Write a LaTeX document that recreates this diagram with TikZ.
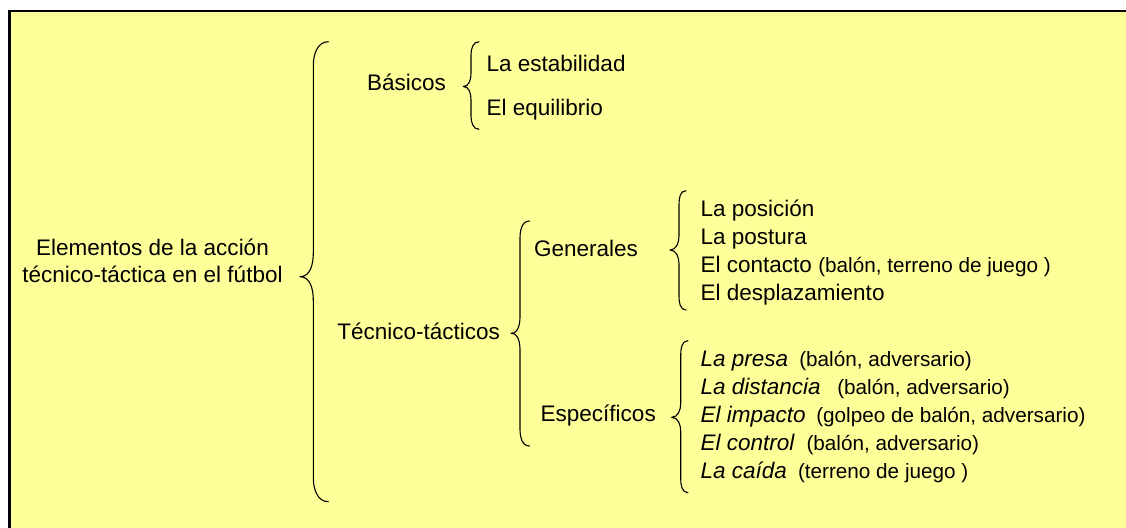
\documentclass[tikz,border=0pt]{standalone}
\usepackage{fontspec}
\setmainfont{Liberation Sans}
\definecolor{paper}{RGB}{255,255,153}
\newcommand\curlybr[7]{%
  \draw[bracestyle] (#1,{-(#4)}) to[out=180,in=90] (#2,{-(#4)-(#7)})
    -- (#2,{-(#5)+(#7)}) to[out=-90,in=0] (#3,{-(#5)})
    to[out=0,in=90] (#2,{-(#5)-(#7)})
    -- (#2,{-(#6)+(#7)}) to[out=-90,in=180] (#1,{-(#6)});}
\newcommand\pfont{\fontsize{20.7}{24}\selectfont}
\tikzset{
  txt/.style={inner sep=0pt, outer sep=0pt, anchor=base west,
    font=\fontsize{22.5}{27.5}\selectfont},
  bracestyle/.style={line width=1.1pt, line cap=round, line join=round}
}
\begin{document}
\begin{tikzpicture}[x=1pt,y=1pt]
\useasboundingbox (0,0) rectangle (1126,-527);
\clip (0,0) rectangle (1126,-527);
\fill[white] (0,0) rectangle (1126,-527);
\draw[line width=2.6pt, fill=paper] (9.5,-11.2) rectangle (1140,-540);

% root
\node[txt, anchor=center, align=center] (root) at (152.5,-263.3)
  {\strut Elementos de la acción\\\strut técnico-táctica en el fútbol};
\curlybr{328.3}{313.3}{300}{41.7}{276.7}{501.7}{24}

% Basicos
\node[txt] (bas) at (367,-90.7) {Básicos};
\curlybr{479}{471}{463.3}{41.7}{86.5}{129.3}{13}
\node[txt] (est) at (486.7,-71.7) {La estabilidad};
\node[txt] (equ) at (486.7,-115) {El equilibrio};

% Tecnico-tacticos
\node[txt] (tt) at (337.3,-339.3) {Técnico-tácticos};
\curlybr{529.5}{520}{511}{221}{333.3}{446}{17}

\node[txt] (gen) at (534,-256) {Generales};
\curlybr{686}{679}{670}{190.7}{250}{310}{14}
\node[txt] (g1) at (700.7,-216.7) {La posición};
\node[txt] (g2) at (700.7,-244.5) {La postura};
\node[txt] (g3) at (700.7,-272.3) {El contacto {\pfont(balón, terreno de juego )}};
\node[txt] (g4) at (700.7,-300) {El desplazamiento};

\node[txt] (esp) at (540.7,-421.7) {Específicos};
\curlybr{688}{680.7}{671.7}{340.7}{417.3}{492.7}{14}
\node[txt] (e1) at (700.7,-366.7) {\textit{La presa}\hspace{11pt}{\pfont(balón, adversario)}};
\node[txt] (e2) at (700.7,-394.5) {\textit{La distancia}\hspace{16.5pt}{\pfont(balón, adversario)}};
\node[txt] (e3) at (700.7,-422.3) {\textit{El impacto}\hspace{10.5pt}{\pfont(golpeo de balón, adversario)}};
\node[txt] (e4) at (700.7,-450) {\textit{El control}\hspace{11.5pt}{\pfont(balón, adversario)}};
\node[txt] (e5) at (700.7,-478) {\textit{La caída}\hspace{11pt}{\pfont(terreno de juego )}};
\end{tikzpicture}
\end{document}
